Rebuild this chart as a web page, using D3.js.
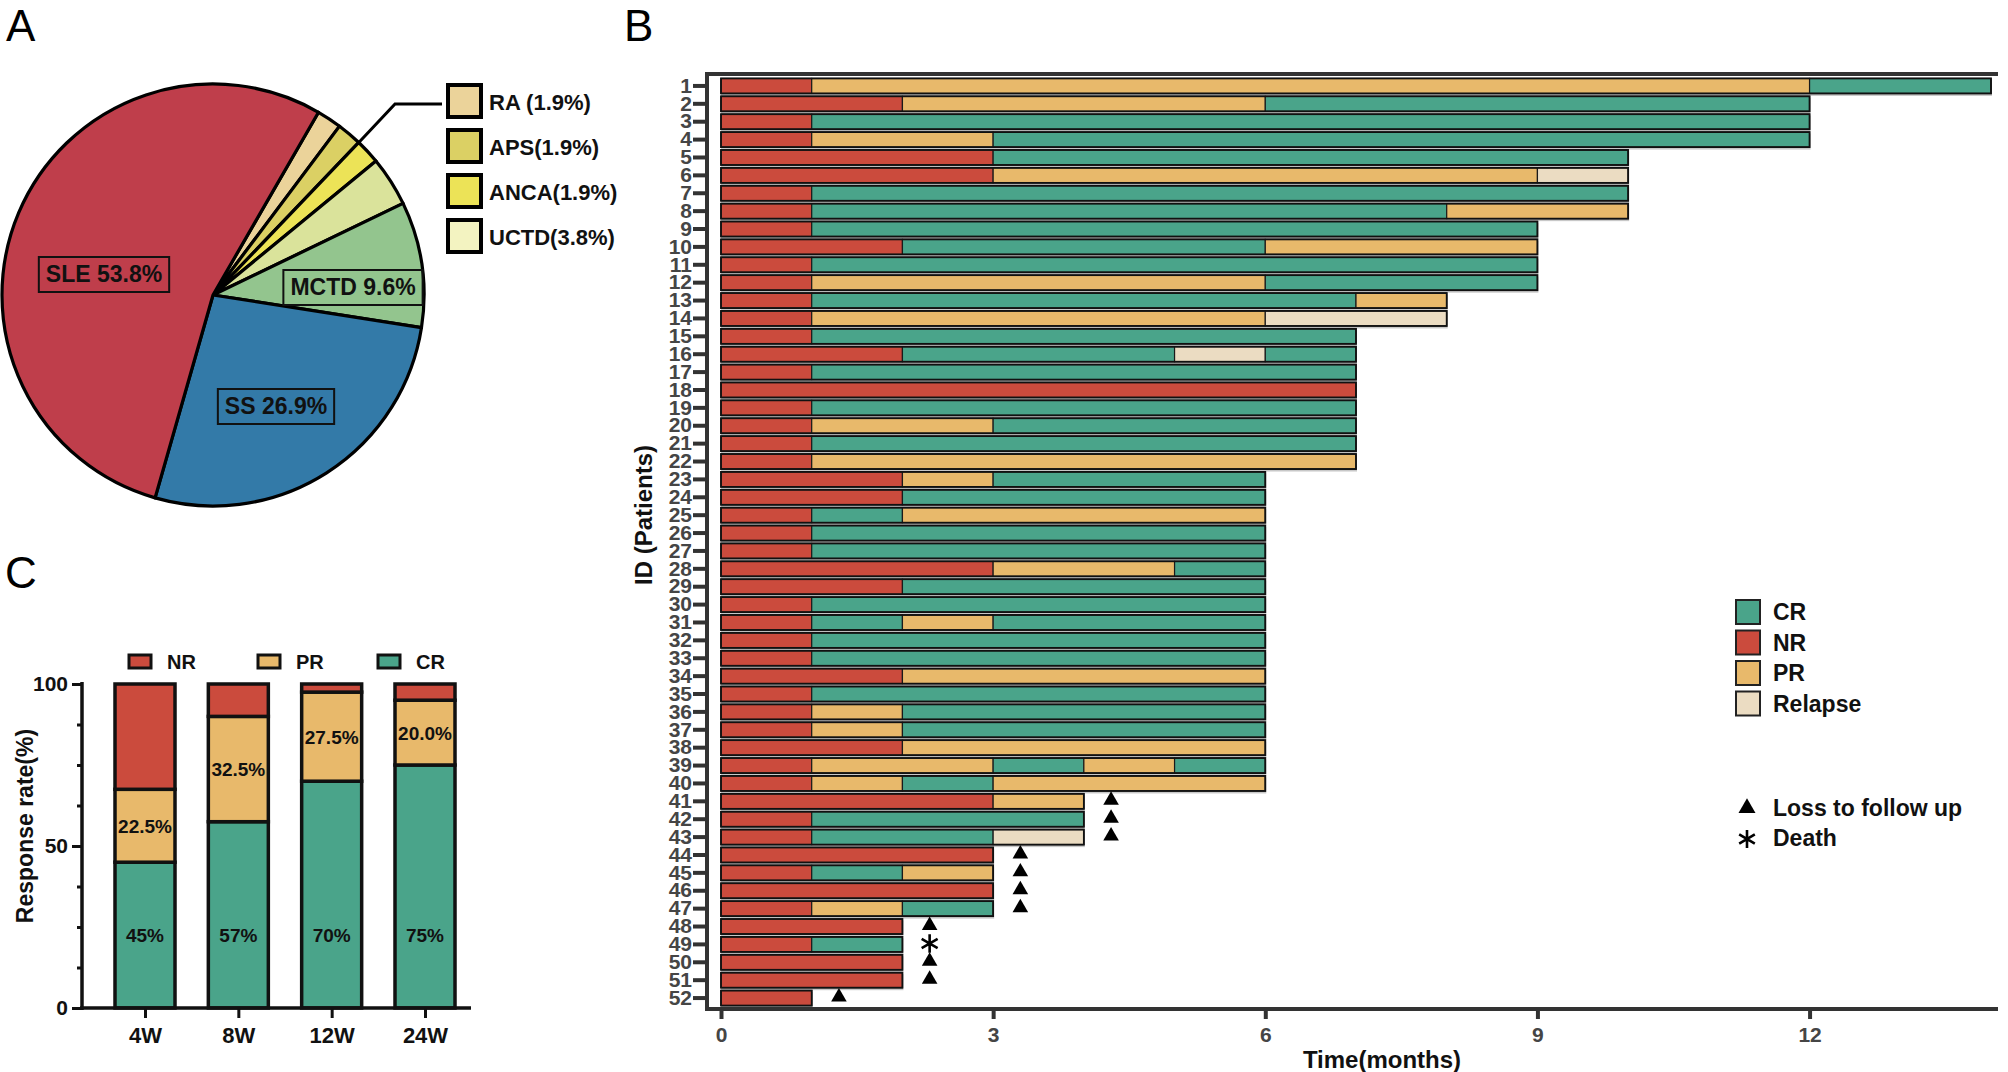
<!DOCTYPE html>
<html><head><meta charset="utf-8">
<script src="https://cdn.jsdelivr.net/npm/d3@7"></script>
<style>
body{margin:0;background:#fff}
svg{display:block}
text{font-family:"Liberation Sans",Arial,Helvetica,sans-serif}
</style>
</head><body>
<svg id="c" width="2008" height="1072"></svg>
<script>
// ---------------- DATA ----------------
// Panel A
const pieCategories = ["RA","APS","ANCA","UCTD","MCTD","SS","SLE"];
const piePercents   = [1.9, 1.9, 1.9, 3.8, 9.6, 26.9, 53.8];
const pieLegendCats = ["RA","APS","ANCA","UCTD"];
const pieLegendText = ["RA (1.9%)","APS(1.9%)","ANCA(1.9%)","UCTD(3.8%)"];
const pieBoxCats    = ["SLE","SS","MCTD"];
const pieBoxText    = ["SLE 53.8%","SS 26.9%","MCTD 9.6%"];

// Panel C
const weeks    = ["4W","8W","12W","24W"];
const crRate   = [45, 57.5, 70, 75];
const prRate   = [22.5, 32.5, 27.5, 20];
const nrRate   = [32.5, 10, 2.5, 5];
const crLabels = ["45%","57%","70%","75%"];
const prLabels = ["22.5%","32.5%","27.5%","20.0%"];
const cTicks   = [0, 50, 100];

// Panel B : per patient, consecutive [state, end month] segments starting at 0
const patientSegments = [
 [["NR",1],["PR",12],["CR",14]],
 [["NR",2],["PR",6],["CR",12]],
 [["NR",1],["CR",12]],
 [["NR",1],["PR",3],["CR",12]],
 [["NR",3],["CR",10]],
 [["NR",3],["PR",9],["Relapse",10]],
 [["NR",1],["CR",10]],
 [["NR",1],["CR",8],["PR",10]],
 [["NR",1],["CR",9]],
 [["NR",2],["CR",6],["PR",9]],
 [["NR",1],["CR",9]],
 [["NR",1],["PR",6],["CR",9]],
 [["NR",1],["CR",7],["PR",8]],
 [["NR",1],["PR",6],["Relapse",8]],
 [["NR",1],["CR",7]],
 [["NR",2],["CR",5],["Relapse",6],["CR",7]],
 [["NR",1],["CR",7]],
 [["NR",7]],
 [["NR",1],["CR",7]],
 [["NR",1],["PR",3],["CR",7]],
 [["NR",1],["CR",7]],
 [["NR",1],["PR",7]],
 [["NR",2],["PR",3],["CR",6]],
 [["NR",2],["CR",6]],
 [["NR",1],["CR",2],["PR",6]],
 [["NR",1],["CR",6]],
 [["NR",1],["CR",6]],
 [["NR",3],["PR",5],["CR",6]],
 [["NR",2],["CR",6]],
 [["NR",1],["CR",6]],
 [["NR",1],["CR",2],["PR",3],["CR",6]],
 [["NR",1],["CR",6]],
 [["NR",1],["CR",6]],
 [["NR",2],["PR",6]],
 [["NR",1],["CR",6]],
 [["NR",1],["PR",2],["CR",6]],
 [["NR",1],["PR",2],["CR",6]],
 [["NR",2],["PR",6]],
 [["NR",1],["PR",3],["CR",4],["PR",5],["CR",6]],
 [["NR",1],["PR",2],["CR",3],["PR",6]],
 [["NR",3],["PR",4]],
 [["NR",1],["CR",4]],
 [["NR",1],["CR",3],["Relapse",4]],
 [["NR",3]],
 [["NR",1],["CR",2],["PR",3]],
 [["NR",3]],
 [["NR",1],["PR",2],["CR",3]],
 [["NR",2]],
 [["NR",1],["CR",2]],
 [["NR",2]],
 [["NR",2]],
 [["NR",1]]
];
const eventPatients = [41,42,43,44,45,46,47,48,49,50,51,52];
const eventTypes    = ["loss","loss","loss","loss","loss","loss","loss","loss","death","loss","loss","loss"];
const timeTicks     = [0,3,6,9,12];
const bLegendStates = ["CR","NR","PR","Relapse"];

// ---------------- STYLE ----------------
const stateColor = {CR:"#4aa48a", NR:"#cb4b3d", PR:"#e8b96b", Relapse:"#ebdcc2"};
const pieColor = {RA:"#ebd39a", APS:"#dbd064", ANCA:"#ece357", UCTD:"#dae39b", MCTD:"#93c58e", SS:"#337aa8", SLE:"#bf3e4b"};
const pieLegendColor = {RA:"#ebd39a", APS:"#dbd064", ANCA:"#ece357", UCTD:"#f3f3c1"};

const svg = d3.select("#c");

// panel letters
[["A",6,41],["B",624,41],["C",5,588]].forEach(([t,x,yy])=>{
  svg.append("text").attr("x",x).attr("y",yy).attr("font-size",44).attr("fill","#000").text(t);
});

// ---------------- PANEL A ----------------
const pcx = 213, pcy = 295, pr = 211;
const a0 = 30*Math.PI/180;
const pie = d3.pie().sort(null).value(d=>d.v).startAngle(a0).endAngle(a0+2*Math.PI);
const arc = d3.arc().innerRadius(0).outerRadius(pr);
const pieData = pie(pieCategories.map((c,i)=>({c, v:piePercents[i]})));
const pg = svg.append("g").attr("transform",`translate(${pcx},${pcy})`);
pg.selectAll("path").data(pieData).join("path")
  .attr("d",arc).attr("fill",d=>pieColor[d.data.c])
  .attr("stroke","#000").attr("stroke-width",3.2).attr("stroke-linejoin","round");

// boxed labels inside slices
const boxOffset = {SLE:[-109,-21], SS:[63,111], MCTD:[140,-8]};
pieBoxCats.forEach((c,i)=>{
  const [dx,dy] = boxOffset[c];
  const t = pg.append("text").attr("x",dx).attr("y",dy+8).attr("text-anchor","middle")
    .attr("font-size",23).attr("font-weight","bold").attr("fill","#111").text(pieBoxText[i]);
  const bb = t.node().getBBox();
  pg.insert("rect","text").attr("x",bb.x-7).attr("y",dy-17).attr("width",bb.width+14).attr("height",35)
    .attr("fill","none").attr("stroke","#111").attr("stroke-width",2);
});

// leader line to small slices
const aps = pieData.find(d=>d.data.c==="APS");
const la = aps.endAngle;
const lx = pcx + pr*Math.sin(la), ly = pcy - pr*Math.cos(la);
svg.append("path").attr("d",`M${lx},${ly} L395,104 L442,104`)
  .attr("fill","none").attr("stroke","#000").attr("stroke-width",3);

// legend
const pl = svg.append("g");
pieLegendCats.forEach((c,i)=>{
  const yy = 85 + i*45;
  pl.append("rect").attr("x",448).attr("y",yy).attr("width",33).attr("height",32)
    .attr("fill",pieLegendColor[c]).attr("stroke","#000").attr("stroke-width",4);
  pl.append("text").attr("x",489).attr("y",yy+25).attr("font-size",22).attr("font-weight","bold")
    .attr("fill","#111").text(pieLegendText[i]);
});

// ---------------- PANEL C ----------------
const yc = d3.scaleLinear().domain([0,100]).range([1008,684]);
const xc = d3.scalePoint().domain(weeks).range([145,425]);
const barW = 60;
const table = weeks.map((w,i)=>({w, CR:crRate[i], PR:prRate[i], NR:nrRate[i]}));
const stack = d3.stack().keys(["CR","PR","NR"])(table);
const cg = svg.append("g");
stack.forEach(layer=>{
  cg.selectAll(null).data(layer).join("rect")
    .attr("x",d=>xc(d.data.w)-barW/2).attr("width",barW)
    .attr("y",d=>yc(d[1])).attr("height",d=>yc(d[0])-yc(d[1]))
    .attr("fill",stateColor[layer.key]).attr("stroke","#111").attr("stroke-width",3.5);
});
// labels
weeks.forEach((w,i)=>{
  cg.append("text").attr("x",xc(w)).attr("y",yc(22.5)+7).attr("text-anchor","middle")
    .attr("font-size",19).attr("font-weight","bold").attr("fill","#111").text(crLabels[i]);
  cg.append("text").attr("x",xc(w)).attr("y",yc(crRate[i]+prRate[i]/2)+7).attr("text-anchor","middle")
    .attr("font-size",19).attr("font-weight","bold").attr("fill","#111").text(prLabels[i]);
});
// axes
const cyMinor = svg.append("g").attr("transform","translate(82,0)")
  .call(d3.axisLeft(yc).tickValues(d3.range(0,101,12.5)).tickSize(5).tickFormat(""));
cyMinor.select(".domain").remove();
cyMinor.selectAll("line").attr("stroke","#111").attr("stroke-width",3);
const cyAx = svg.append("g").attr("transform","translate(82,0)")
  .call(d3.axisLeft(yc).tickValues(cTicks).tickSize(10).tickPadding(4));
cyAx.select(".domain").remove();
cyAx.selectAll("line").attr("stroke","#111").attr("stroke-width",3);
cyAx.selectAll("text").attr("font-size",21).attr("font-weight","bold").attr("fill","#111")
  .attr("font-family",'"Liberation Sans",Arial,sans-serif');
svg.append("line").attr("x1",82).attr("x2",82).attr("y1",682).attr("y2",1010).attr("stroke","#111").attr("stroke-width",3.5);
const cxAx = svg.append("g").attr("transform","translate(0,1008)")
  .call(d3.axisBottom(xc).tickSize(10).tickPadding(6));
cxAx.select(".domain").remove();
cxAx.selectAll("line").attr("stroke","#111").attr("stroke-width",3);
cxAx.selectAll("text").attr("font-size",22).attr("font-weight","bold").attr("fill","#111")
  .attr("font-family",'"Liberation Sans",Arial,sans-serif').attr("dy","0.85em");
svg.append("line").attr("x1",80).attr("x2",471).attr("y1",1008).attr("y2",1008).attr("stroke","#111").attr("stroke-width",3.5);
svg.append("text").attr("transform","translate(33,826) rotate(-90)").attr("text-anchor","middle")
  .attr("font-size",23).attr("font-weight","bold").attr("fill","#111").text("Response rate(%)");
// legend C
const cLeg = [["NR",129],["PR",258],["CR",378]];
cLeg.forEach(([k,x0])=>{
  svg.append("rect").attr("x",x0).attr("y",655).attr("width",22).attr("height",13)
    .attr("fill",stateColor[k]).attr("stroke","#111").attr("stroke-width",3);
  svg.append("text").attr("x",x0+38).attr("y",669).attr("font-size",20).attr("font-weight","bold")
    .attr("fill","#111").text(k);
});

// ---------------- PANEL B ----------------
const ids = patientSegments.map((_,i)=>String(i+1));
const xb = d3.scaleLinear().domain([0,14]).range([721,1991]);
const yb = d3.scaleBand().domain(ids).range([77,1007]).paddingInner(0.16).paddingOuter(0.08);
const bg = svg.append("g");
const bh = yb.bandwidth();

patientSegments.forEach((segs,i)=>{
  const id = ids[i];
  const y0 = yb(id);
  const end = segs[segs.length-1][1];
  // soft shadow
  bg.append("rect").attr("x",xb(0)).attr("y",y0+1.5).attr("width",xb(end)-xb(0)+1).attr("height",bh+1)
    .attr("fill","#9a9a9a").attr("opacity",0.55);
  let start = 0;
  segs.forEach(([st,e])=>{
    bg.append("rect").attr("x",xb(start)).attr("y",y0).attr("width",xb(e)-xb(start)).attr("height",bh)
      .attr("fill",stateColor[st]).attr("stroke","#1a1a1a").attr("stroke-width",1.2);
    start = e;
  });
  bg.append("rect").attr("x",xb(0)).attr("y",y0).attr("width",xb(end)-xb(0)).attr("height",bh)
    .attr("fill","none").attr("stroke","#111").attr("stroke-width",1.8);
});

// event markers
const markerOffset = 0.3;
eventPatients.forEach((p,i)=>{
  const segs = patientSegments[p-1];
  const end = segs[segs.length-1][1];
  const cx = xb(end+markerOffset), cy = yb(String(p)) + bh/2 - 1;
  if (eventTypes[i]==="loss") {
    svg.append("path").attr("d",d3.symbol(d3.symbolTriangle,105)())
      .attr("transform",`translate(${cx},${cy})`).attr("fill","#000");
  } else {
    svg.append("path").attr("d",d3.symbol(d3.symbolAsterisk,240)())
      .attr("transform",`translate(${cx},${cy})`).attr("fill","none").attr("stroke","#000").attr("stroke-width",2.6);
  }
});

// axes B
const byAx = svg.append("g").attr("transform","translate(707,0)")
  .call(d3.axisLeft(yb).tickSize(14).tickPadding(1));
byAx.select(".domain").remove();
byAx.selectAll("line").attr("stroke","#333").attr("stroke-width",4);
byAx.selectAll("text").attr("font-size",21).attr("font-weight","bold").attr("fill","#454545")
  .attr("font-family",'"Liberation Sans",Arial,sans-serif');
svg.append("line").attr("x1",707).attr("x2",707).attr("y1",72).attr("y2",1011).attr("stroke","#333").attr("stroke-width",4);
svg.append("line").attr("x1",705).attr("x2",1998).attr("y1",74).attr("y2",74).attr("stroke","#333").attr("stroke-width",4);
const bxAx = svg.append("g").attr("transform","translate(0,1009)")
  .call(d3.axisBottom(xb).tickValues(timeTicks).tickSize(10).tickPadding(6));
bxAx.select(".domain").remove();
bxAx.selectAll("line").attr("stroke","#333").attr("stroke-width",4);
bxAx.selectAll("text").attr("font-size",21).attr("font-weight","bold").attr("fill","#454545")
  .attr("font-family",'"Liberation Sans",Arial,sans-serif').attr("dy","0.8em");
svg.append("line").attr("x1",705).attr("x2",1998).attr("y1",1009).attr("y2",1009).attr("stroke","#333").attr("stroke-width",4);

svg.append("text").attr("x",1382).attr("y",1068).attr("text-anchor","middle")
  .attr("font-size",24).attr("font-weight","bold").attr("fill","#111").text("Time(months)");
svg.append("text").attr("transform","translate(652,515) rotate(-90)").attr("text-anchor","middle")
  .attr("font-size",24).attr("font-weight","bold").attr("fill","#111").text("ID (Patients)");

// legend B
bLegendStates.forEach((k,i)=>{
  const yy = 600 + i*30.5;
  svg.append("rect").attr("x",1736).attr("y",yy).attr("width",24).attr("height",24)
    .attr("fill",stateColor[k]).attr("stroke","#222").attr("stroke-width",2);
  svg.append("text").attr("x",1773).attr("y",yy+20).attr("font-size",23).attr("font-weight","bold")
    .attr("fill","#111").text(k);
});
svg.append("path").attr("d",d3.symbol(d3.symbolTriangle,125)()).attr("transform","translate(1747,808)").attr("fill","#000");
svg.append("text").attr("x",1773).attr("y",816).attr("font-size",23).attr("font-weight","bold").attr("fill","#111").text("Loss to follow up");
svg.append("path").attr("d",d3.symbol(d3.symbolAsterisk,230)()).attr("transform","translate(1747,839)")
  .attr("fill","none").attr("stroke","#000").attr("stroke-width",2.6);
svg.append("text").attr("x",1773).attr("y",846).attr("font-size",23).attr("font-weight","bold").attr("fill","#111").text("Death");
</script>
</body></html>
